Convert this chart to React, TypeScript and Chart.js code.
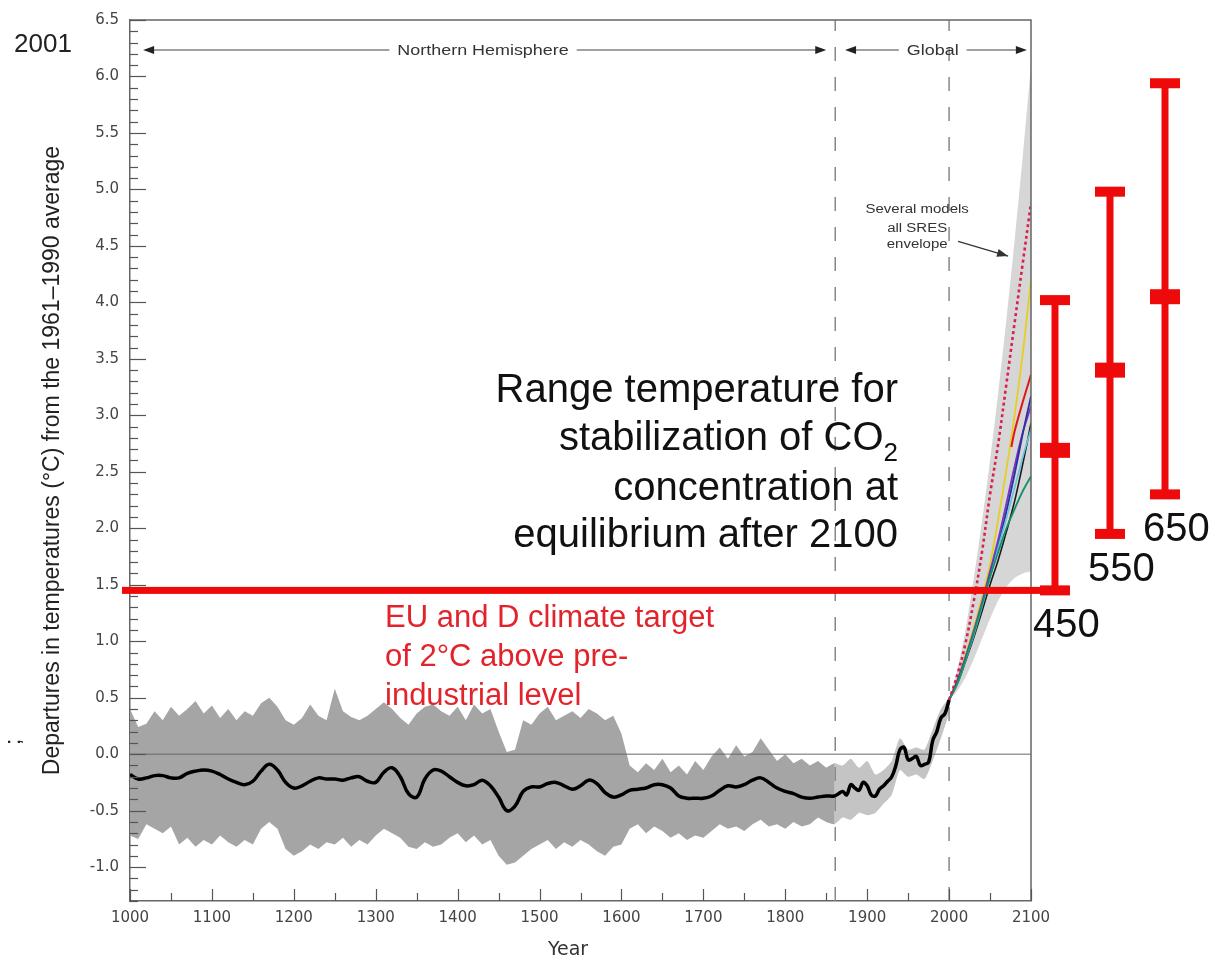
import React, { useEffect, useRef } from "react";
import { Chart, registerables } from "chart.js";

Chart.register(...registerables);

// ---------------- data ----------------
const yMin = -1.3;
const yMax = 6.5;
const xMin = 1000;
const xMax = 2100;

// Northern Hemisphere reconstruction uncertainty band (decadal)
const bandYears = [
  1000, 1010, 1020, 1030, 1040, 1050, 1060, 1070, 1080, 1090,
  1100, 1110, 1120, 1130, 1140, 1150, 1160, 1170, 1180, 1190,
  1200, 1210, 1220, 1230, 1240, 1250, 1260, 1270, 1280, 1290,
  1300, 1310, 1320, 1330, 1340, 1350, 1360, 1370, 1380, 1390,
  1400, 1410, 1420, 1430, 1440, 1450, 1460, 1470, 1480, 1490,
  1500, 1510, 1520, 1530, 1540, 1550, 1560, 1570, 1580, 1590,
  1600, 1610, 1620, 1630, 1640, 1650, 1660, 1670, 1680, 1690,
  1700, 1710, 1720, 1730, 1740, 1750, 1760, 1770, 1780, 1790,
  1800, 1810, 1820, 1830, 1840, 1850, 1860,
];
const bandUpper = [
  0.40, 0.24, 0.27, 0.38, 0.30, 0.42, 0.34, 0.40, 0.47, 0.36,
  0.43, 0.32, 0.40, 0.30, 0.38, 0.34, 0.45, 0.50, 0.42, 0.30,
  0.26, 0.32, 0.44, 0.34, 0.30, 0.58, 0.38, 0.33, 0.30, 0.34,
  0.40, 0.46, 0.40, 0.32, 0.26, 0.36, 0.42, 0.44, 0.38, 0.34,
  0.42, 0.30, 0.44, 0.36, 0.40, 0.20, 0.02, 0.04, 0.30, 0.26,
  0.36, 0.42, 0.30, 0.34, 0.38, 0.32, 0.40, 0.36, 0.30, 0.34,
  0.18, -0.10, -0.16, -0.08, -0.14, -0.04, -0.16, -0.10, -0.18, -0.06,
  -0.14, -0.02, 0.06, -0.04, 0.08, -0.02, 0.02, 0.14, 0.04, -0.06,
  0.00, -0.08, -0.04, -0.10, -0.06, -0.12, -0.08,
];
const bandLower = [
  -0.72, -0.75, -0.62, -0.66, -0.70, -0.64, -0.80, -0.74, -0.82, -0.76,
  -0.80, -0.72, -0.78, -0.82, -0.76, -0.80, -0.66, -0.60, -0.66, -0.84,
  -0.90, -0.86, -0.80, -0.84, -0.78, -0.80, -0.74, -0.82, -0.76, -0.80,
  -0.72, -0.66, -0.70, -0.74, -0.82, -0.84, -0.78, -0.82, -0.80, -0.74,
  -0.70, -0.78, -0.72, -0.80, -0.76, -0.90, -0.98, -0.96, -0.90, -0.84,
  -0.80, -0.76, -0.84, -0.78, -0.82, -0.76, -0.80, -0.86, -0.90, -0.82,
  -0.80, -0.66, -0.62, -0.70, -0.64, -0.68, -0.74, -0.70, -0.76, -0.72,
  -0.74, -0.68, -0.62, -0.66, -0.64, -0.68, -0.62, -0.58, -0.64, -0.62,
  -0.66, -0.60, -0.64, -0.62, -0.56, -0.60, -0.62,
];

// instrumental-period band
const instYears = [1850, 1860, 1870, 1880, 1890, 1900, 1910, 1920, 1930, 1940, 1950, 1960, 1970, 1980, 1990, 2000];
const instUpper = [-0.12, -0.08, -0.10, -0.04, -0.12, -0.06, -0.18, -0.14, -0.06, 0.14, 0.04, 0.06, 0.04, 0.22, 0.40, 0.50];
const instLower = [-0.60, -0.62, -0.56, -0.58, -0.52, -0.54, -0.52, -0.44, -0.36, -0.14, -0.20, -0.18, -0.22, -0.06, 0.14, 0.36];

// smoothed reconstruction / observed record
const reconYears = [
  1000, 1010, 1020, 1030, 1040, 1050, 1060, 1070, 1080, 1090,
  1100, 1110, 1120, 1130, 1140, 1150, 1160, 1170, 1180, 1190,
  1200, 1210, 1220, 1230, 1240, 1250, 1260, 1270, 1280, 1290,
  1300, 1310, 1320, 1330, 1340, 1350, 1360, 1370, 1380, 1390,
  1400, 1410, 1420, 1430, 1440, 1450, 1460, 1470, 1480, 1490,
  1500, 1510, 1520, 1530, 1540, 1550, 1560, 1570, 1580, 1590,
  1600, 1610, 1620, 1630, 1640, 1650, 1660, 1670, 1680, 1690,
  1700, 1710, 1720, 1730, 1740, 1750, 1760, 1770, 1780, 1790,
  1800, 1810, 1820, 1830, 1840, 1850, 1860,
  1865, 1870, 1875, 1880, 1885, 1890, 1895, 1900, 1905, 1910,
  1915, 1920, 1925, 1930, 1935, 1940, 1945, 1950, 1955, 1960,
  1965, 1970, 1975, 1980, 1985, 1990, 1995, 2000,
];
const reconValues = [
  -0.18, -0.22, -0.21, -0.19, -0.19, -0.21, -0.21, -0.17, -0.15, -0.14,
  -0.15, -0.18, -0.22, -0.25, -0.27, -0.24, -0.15, -0.09, -0.14, -0.25,
  -0.30, -0.28, -0.24, -0.21, -0.22, -0.22, -0.23, -0.21, -0.20, -0.24,
  -0.25, -0.16, -0.12, -0.20, -0.35, -0.38, -0.22, -0.14, -0.15, -0.20,
  -0.25, -0.28, -0.27, -0.23, -0.28, -0.38, -0.50, -0.46, -0.33, -0.29,
  -0.29, -0.26, -0.25, -0.28, -0.31, -0.28, -0.23, -0.26, -0.34, -0.38,
  -0.36, -0.32, -0.31, -0.30, -0.27, -0.27, -0.30, -0.37, -0.39, -0.39,
  -0.39, -0.37, -0.32, -0.28, -0.29, -0.27, -0.23, -0.21, -0.25, -0.30,
  -0.33, -0.35, -0.38, -0.39, -0.38, -0.37, -0.37,
  -0.35, -0.33, -0.36, -0.27, -0.30, -0.32, -0.25, -0.28, -0.36, -0.37,
  -0.31, -0.28, -0.24, -0.20, -0.10, 0.04, 0.06, -0.05, -0.04, -0.02,
  -0.10, -0.09, -0.07, 0.12, 0.20, 0.32, 0.36, 0.48,
];

// projections 2000-2100
const projYears = [2000, 2010, 2020, 2030, 2040, 2050, 2060, 2070, 2080, 2090, 2100];
const envUpper = [0.48, 0.75, 1.10, 1.55, 2.05, 2.60, 3.20, 3.85, 4.55, 5.30, 6.10];
const envLower = [0.48, 0.56, 0.68, 0.84, 1.02, 1.20, 1.36, 1.48, 1.56, 1.60, 1.62];
const modelDotted = [0.48, 0.70, 0.98, 1.35, 1.78, 2.30, 2.75, 3.28, 3.82, 4.35, 4.88];
const modelYellow = [0.48, 0.66, 0.88, 1.12, 1.38, 1.68, 2.08, 2.52, 3.00, 3.55, 4.20];
const modelBlue = [0.48, 0.64, 0.84, 1.06, 1.30, 1.58, 1.84, 2.15, 2.48, 2.84, 3.17];
const modelPurple = [0.48, 0.65, 0.86, 1.09, 1.34, 1.62, 1.90, 2.22, 2.55, 2.85, 3.08];
const modelBlack = [0.48, 0.62, 0.82, 1.03, 1.26, 1.50, 1.72, 1.97, 2.24, 2.57, 2.93];
const modelTeal = [0.48, 0.63, 0.84, 1.07, 1.32, 1.57, 1.79, 2.00, 2.17, 2.33, 2.46];
const modelCyan = [0.48, 0.62, 0.83, 1.05, 1.30, 1.56, 1.83, 2.09, 2.36, 2.63, 2.88];
const modelRedYears = [2076, 2080, 2090, 2100];
const modelRed = [2.72, 2.86, 3.12, 3.36];

// period boundaries (dashed lines)
const boundaryYears = [1861, 2000];

// stabilisation ranges (CO2 ppm) — low / best / high
const stabLabels = ["450", "550", "650"];
const stabLow = [1.45, 1.95, 2.3];
const stabMid = [2.69, 3.4, 4.05];
const stabHigh = [4.02, 4.98, 5.94];
const targetLevel = 1.45;

const yTitle = "Departures in temperatures (\u00B0C) from the 1961\u20131990 average";
const bigText = ["Range temperature for", "stabilization of CO", "concentration at", "equilibrium after 2100"];
const redText = ["EU and D climate target", "of 2\u00B0C above pre-", "industrial level"];
const envText = ["Several models", "all SRES", "envelope"];

// ---------------- helpers ----------------
const SANS = '"Liberation Sans", Arial, sans-serif';
const TICKF = '"DejaVu Sans", sans-serif';

function pts(xs: number[], ys: number[]) {
  return xs.map((x, i) => ({ x, y: ys[i] }));
}

function lineDs(data: any, color: string, width: number, order: number, extra: any = {}) {
  return {
    type: "line",
    data,
    borderColor: color,
    borderWidth: width,
    pointRadius: 0,
    fill: false,
    tension: 0.35,
    order,
    ...extra,
  };
}

function txt(ctx: CanvasRenderingContext2D, s: string, x: number, y: number, font: string, color: string, align: CanvasTextAlign, sx = 1) {
  ctx.save();
  ctx.font = font;
  ctx.fillStyle = color;
  ctx.textAlign = align;
  ctx.textBaseline = "alphabetic";
  ctx.translate(x, y);
  ctx.scale(sx, 1);
  ctx.fillText(s, 0, 0);
  ctx.restore();
}

function head(ctx: CanvasRenderingContext2D, x: number, y: number, dx: number, dy: number) {
  const len = Math.hypot(dx, dy);
  const ux = dx / len, uy = dy / len;
  ctx.beginPath();
  ctx.moveTo(x, y);
  ctx.lineTo(x - ux * 11 - uy * 4, y - uy * 11 + ux * 4);
  ctx.lineTo(x - ux * 11 + uy * 4, y - uy * 11 - ux * 4);
  ctx.closePath();
  ctx.fill();
}

const overlay = {
  id: "overlay",
  afterDraw(chart: any) {
    const { ctx, chartArea: ca, scales } = chart;
    const xs = scales.x, ys = scales.y;
    ctx.save();

    // frame (top & right)
    ctx.strokeStyle = "#666";
    ctx.lineWidth = 1.5;
    ctx.beginPath();
    ctx.moveTo(ca.left, ca.top);
    ctx.lineTo(ca.right, ca.top);
    ctx.lineTo(ca.right, ca.bottom);
    ctx.stroke();

    // inner ticks
    ctx.strokeStyle = "#555";
    ctx.lineWidth = 1.2;
    for (let k = -13; k <= 65; k++) {
      const py = Math.round(ys.getPixelForValue(k / 10)) + 0.5;
      const len = k % 5 === 0 ? 16 : 8;
      ctx.beginPath();
      ctx.moveTo(ca.left, py);
      ctx.lineTo(ca.left + len, py);
      ctx.stroke();
    }
    for (let yr = xMin; yr <= xMax; yr += 50) {
      const px = Math.round(xs.getPixelForValue(yr)) + 0.5;
      const len = yr % 100 === 0 ? 12 : 8;
      ctx.beginPath();
      ctx.moveTo(px, ca.bottom);
      ctx.lineTo(px, ca.bottom - len);
      ctx.stroke();
    }

    // region arrows
    const ay = 50;
    const span = (y0: number, y1: number, yc: number, label: string) => {
      const l = xs.getPixelForValue(y0), r = xs.getPixelForValue(y1), c = xs.getPixelForValue(yc);
      ctx.font = "14px " + SANS;
      const w = ctx.measureText(label).width * 1.28;
      ctx.strokeStyle = "#444";
      ctx.fillStyle = "#222";
      ctx.lineWidth = 1.2;
      ctx.beginPath();
      ctx.moveTo(l + 4, ay);
      ctx.lineTo(c - w / 2 - 8, ay);
      ctx.moveTo(c + w / 2 + 8, ay);
      ctx.lineTo(r - 4, ay);
      ctx.stroke();
      head(ctx, l, ay, -1, 0);
      head(ctx, r, ay, 1, 0);
      txt(ctx, label, c, ay + 5, "14px " + SANS, "#333", "center", 1.28);
    };
    span(1016, 1850, 1431, "Northern Hemisphere");
    span(1873, 2095, 1980, "Global");

    // envelope annotation
    const ex = xs.getPixelForValue(1961);
    envText.forEach((s, i) => {
      txt(ctx, s, ex, ys.getPixelForValue([4.79, 4.62, 4.48][i]), "12px " + SANS, "#333", "center", 1.25);
    });
    ctx.strokeStyle = "#333";
    ctx.fillStyle = "#333";
    ctx.lineWidth = 1.2;
    const a0x = xs.getPixelForValue(2011), a0y = ys.getPixelForValue(4.54);
    const a1x = xs.getPixelForValue(2072), a1y = ys.getPixelForValue(4.41);
    ctx.beginPath();
    ctx.moveTo(a0x, a0y);
    ctx.lineTo(a1x, a1y);
    ctx.stroke();
    head(ctx, a1x, a1y, a1x - a0x, a1y - a0y);

    // misc labels
    txt(ctx, "2001", 14, 52, "26px " + SANS, "#222", "left");
    ctx.save();
    ctx.translate(20, 742);
    ctx.rotate(-Math.PI / 2);
    txt(ctx, ";", 0, 0, "22px " + SANS, "#222", "center");
    ctx.restore();
    txt(ctx, "Year", 568, 955, "19px " + TICKF, "#333", "center");

    // big black text
    const bx = 898;
    const bys = [402, 450, 500, 547];
    bigText.forEach((s, i) => {
      if (i === 1) {
        ctx.font = "26px " + SANS;
        const sw = ctx.measureText("2").width;
        txt(ctx, s, bx - sw, bys[i], "40px " + SANS, "#111", "right");
        txt(ctx, "2", bx, bys[i] + 11, "26px " + SANS, "#111", "right");
      } else {
        txt(ctx, s, bx, bys[i], "40px " + SANS, "#111", "right");
      }
    });

    // red text
    [627, 666, 705].forEach((yy, i) => txt(ctx, redText[i], 385, yy, "31px " + SANS, "#e3232b", "left"));

    // stabilisation bars
    const red = "#ee0a0a";
    const barX = [ca.right + 24, ca.right + 79, ca.right + 134];
    ctx.fillStyle = red;
    stabLabels.forEach((lab, i) => {
      const x = barX[i];
      const yl = ys.getPixelForValue(stabLow[i]);
      const ym = ys.getPixelForValue(stabMid[i]);
      const yh = ys.getPixelForValue(stabHigh[i]);
      ctx.fillStyle = red;
      ctx.fillRect(x - 3.5, yh, 7, yl - yh);
      ctx.fillRect(x - 15, yh - 5, 30, 10);
      ctx.fillRect(x - 15, ym - 7.5, 30, 15);
      ctx.fillRect(x - 15, yl - 5, 30, 10);
      txt(ctx, lab, x - 22, yl + 47, "40px " + SANS, "#111", "left");
    });

    // target line
    const ty = ys.getPixelForValue(targetLevel);
    ctx.fillStyle = red;
    ctx.fillRect(ca.left - 8, ty - 3.5, barX[0] + 15 - (ca.left - 8), 7);

    ctx.restore();
  },
};

export default function App() {
  const ref = useRef<HTMLCanvasElement>(null);

  useEffect(() => {
    const canvas = ref.current;
    if (!canvas) return;
    const datasets: any[] = [
      lineDs(pts(projYears, envUpper), "rgba(0,0,0,0)", 0, 10, { fill: "+1", backgroundColor: "rgb(214,214,214)", tension: 0.3 }),
      lineDs(pts(projYears, envLower), "rgba(0,0,0,0)", 0, 10, { tension: 0.3 }),
      lineDs(pts(bandYears, bandUpper), "rgba(0,0,0,0)", 0, 9, { fill: "+1", backgroundColor: "rgb(165,165,165)", tension: 0 }),
      lineDs(pts(bandYears, bandLower), "rgba(0,0,0,0)", 0, 9, { tension: 0 }),
      lineDs(pts(instYears, instUpper), "rgba(0,0,0,0)", 0, 9, { fill: "+1", backgroundColor: "rgb(196,196,196)", tension: 0.2 }),
      lineDs(pts(instYears, instLower), "rgba(0,0,0,0)", 0, 9, { tension: 0.2 }),
      lineDs(pts([xMin, xMax], [0, 0]), "#666", 1, 8, { tension: 0 }),
      lineDs(pts([boundaryYears[0], boundaryYears[0]], [yMin, yMax]), "#888", 1.5, 8, { tension: 0, borderDash: [14, 16] }),
      lineDs(pts([boundaryYears[1], boundaryYears[1]], [yMin, yMax]), "#888", 1.5, 8, { tension: 0, borderDash: [14, 16] }),
      lineDs(pts(projYears, modelTeal), "#14906a", 1.8, 4),
      lineDs(pts(projYears, modelCyan), "#5ec4de", 1.6, 4),
      lineDs(pts(projYears, modelBlack), "#1a1a1a", 1.6, 4),
      lineDs(pts(projYears, modelBlue), "#2a2fa0", 1.8, 4),
      lineDs(pts(projYears, modelPurple), "#7a35c0", 1.8, 4),
      lineDs(pts(projYears, modelYellow), "#e6cf22", 1.8, 4),
      lineDs(pts(modelRedYears, modelRed), "#dd1818", 2, 3),
      lineDs(pts(projYears, modelDotted), "#d8204f", 2.6, 2, { borderDash: [3, 3] }),
      lineDs(pts(reconYears, reconValues), "#000", 3.5, 1, { tension: 0.4 }),
    ];

    const chart = new Chart(canvas, {
      type: "line",
      data: { datasets },
      options: {
        animation: false,
        responsive: false,
        devicePixelRatio: 1,
        events: [],
        layout: { padding: { left: 0, top: 16, right: 188, bottom: 0 } },
        plugins: { legend: { display: false }, tooltip: { enabled: false }, title: { display: false } },
        scales: {
          x: {
            type: "linear",
            min: xMin,
            max: xMax,
            afterFit: (s: any) => { s.height = 60; },
            grid: { display: false, drawTicks: false },
            border: { display: true, color: "#666", width: 1.5 },
            ticks: {
              stepSize: 100,
              padding: 8,
              color: "#444",
              maxRotation: 0,
              autoSkip: false,
              font: { family: "DejaVu Sans", size: 15 },
              callback: (v: any) => String(v),
            },
          },
          y: {
            type: "linear",
            min: yMin,
            max: yMax,
            afterFit: (s: any) => { s.width = 130; },
            grid: { display: false, drawTicks: false },
            border: { display: true, color: "#666", width: 1.5 },
            ticks: {
              stepSize: 0.5,
              includeBounds: false,
              padding: 11,
              color: "#444",
              font: { family: "DejaVu Sans", size: 15 },
              callback: (v: any) => Number(v).toFixed(1),
            },
            title: {
              display: true,
              text: yTitle,
              color: "#222",
              font: { family: "Liberation Sans", size: 23 },
              padding: { top: 39, bottom: 0 },
            },
          },
        },
      },
      plugins: [overlay],
    } as any);
    return () => chart.destroy();
  }, []);

  return (
    <div style={{ position: "absolute", left: 0, top: 0, width: 1219, height: 961, background: "#fff" }}>
      <canvas ref={ref} width={1219} height={961} style={{ display: "block", width: 1219, height: 961 }} />
    </div>
  );
}
